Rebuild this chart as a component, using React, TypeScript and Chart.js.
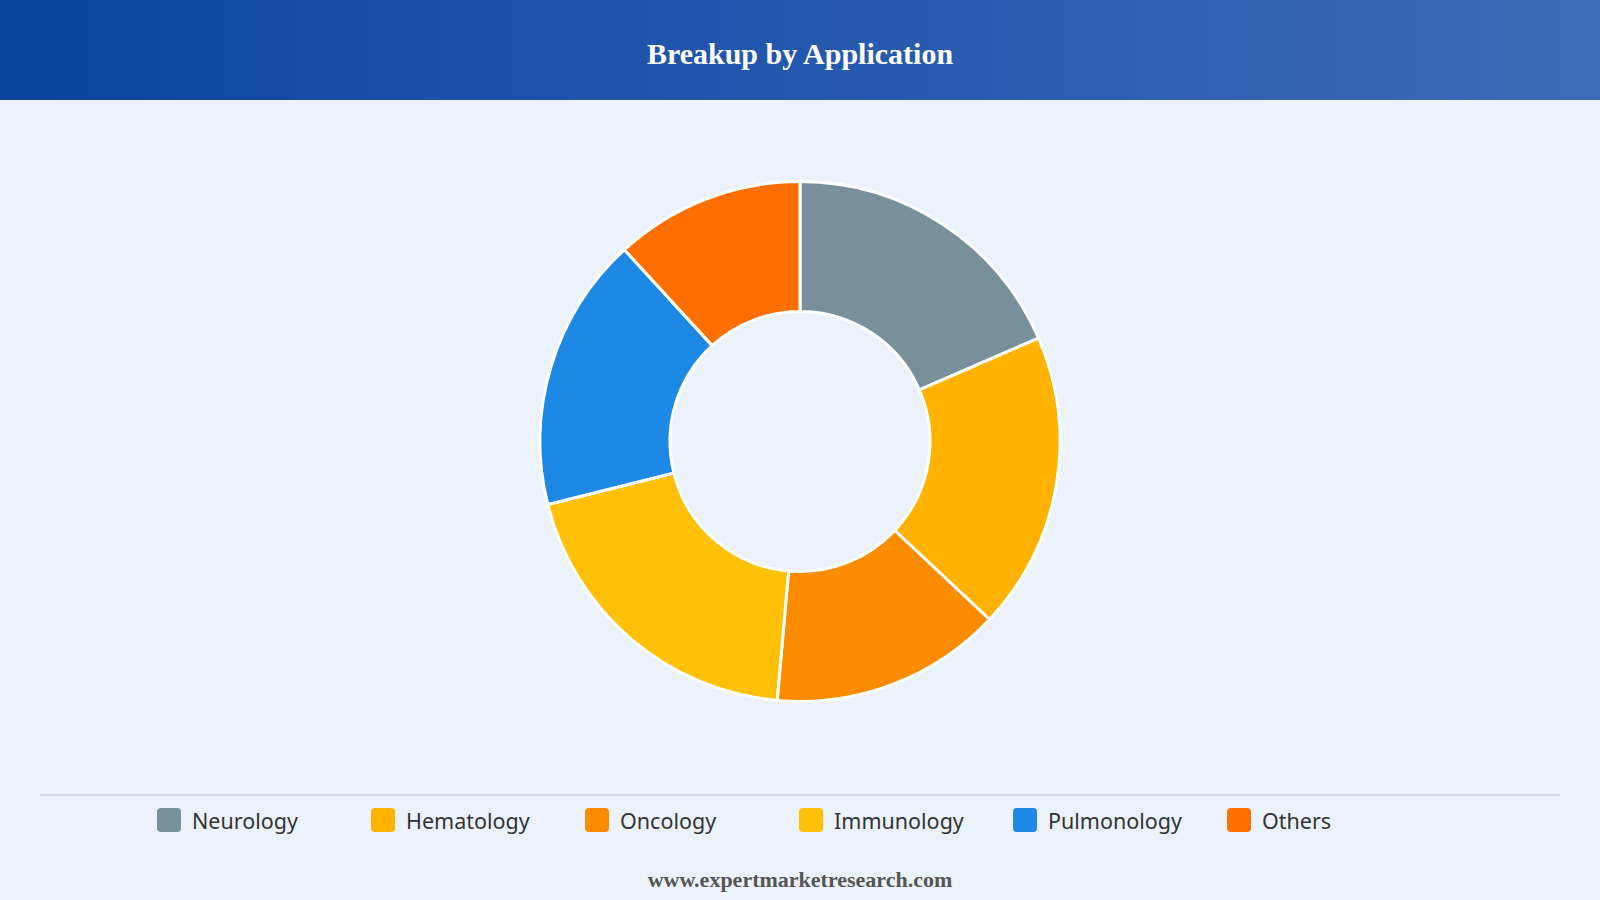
import React, { useEffect, useRef } from "react";
import { Chart, registerables } from "chart.js";

Chart.register(...registerables);

const categories = ["Neurology", "Hematology", "Oncology", "Immunology", "Pulmonology", "Others"];
const shares = [18.5, 18.5, 14.4, 19.7, 17.1, 11.8];
const colors = ["#78909C", "#FFB300", "#FB8C00", "#FFC107", "#1E88E5", "#FF6F00"];
const title = "Breakup by Application";
const footer = "www.expertmarketresearch.com";

export default function App() {
  const canvasRef = useRef<HTMLCanvasElement | null>(null);

  useEffect(() => {
    document.body.style.margin = "0";
    const ctx = canvasRef.current;
    if (!ctx) return;
    const chart = new Chart(ctx, {
      type: "doughnut",
      data: {
        labels: categories,
        datasets: [
          {
            data: shares,
            backgroundColor: colors,
            borderColor: "#ffffff",
            borderWidth: 3,
          },
        ],
      },
      options: {
        animation: false,
        responsive: true,
        maintainAspectRatio: false,
        cutout: "50%",
        layout: { padding: 0 },
        plugins: {
          legend: { display: false },
          tooltip: { enabled: false },
          title: { display: false },
        },
      },
    });
    return () => chart.destroy();
  }, []);

  return (
    <div
      style={{
        position: "relative",
        width: 1600,
        height: 900,
        background: "#EBF2FB",
        overflow: "hidden",
        fontFamily: "'Noto Sans', 'Open Sans', sans-serif",
      }}
    >
      <div
        style={{
          position: "absolute",
          left: 0,
          top: 0,
          width: 1600,
          height: 100,
          background: "linear-gradient(90deg, #0C44A0 0%, #2458AD 50%, #3D6CB6 100%)",
          display: "flex",
          alignItems: "center",
          justifyContent: "center",
        }}
      >
        <span
          style={{
            color: "#ffffff",
            fontFamily: "'Liberation Serif', 'Times New Roman', serif",
            fontWeight: "bold",
            fontSize: 30,
            marginTop: 8,
          }}
        >
          {title}
        </span>
      </div>

      <div style={{ position: "absolute", left: 0, top: 180, width: 1600, height: 523 }}>
        <canvas ref={canvasRef} />
      </div>

      <div
        style={{
          position: "absolute",
          left: 40,
          top: 794,
          width: 1520,
          height: 2,
          background: "#D9DDE2",
        }}
      />

      <div
        style={{
          position: "absolute",
          left: 157,
          top: 808,
          display: "flex",
        }}
      >
        {categories.map((c, i) => (
          <div key={c} style={{ width: 214, display: "flex", alignItems: "center", height: 24 }}>
            <div
              style={{
                width: 24,
                height: 24,
                borderRadius: 4,
                background: colors[i],
                marginRight: 11,
                flexShrink: 0,
              }}
            />
            <span style={{ fontSize: 21.5, color: "#333333", whiteSpace: "nowrap" }}>{c}</span>
          </div>
        ))}
      </div>

      <div
        style={{
          position: "absolute",
          left: 0,
          top: 867,
          width: 1600,
          textAlign: "center",
          fontFamily: "'Liberation Serif', 'Times New Roman', serif",
          fontWeight: "bold",
          fontSize: 22,
          color: "#555555",
        }}
      >
        {footer}
      </div>
    </div>
  );
}
